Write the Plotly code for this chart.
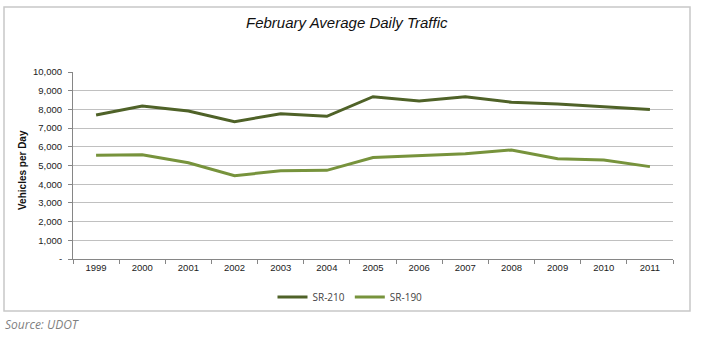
import plotly.graph_objects as go

years = ["1999", "2000", "2001", "2002", "2003", "2004", "2005",
         "2006", "2007", "2008", "2009", "2010", "2011"]
sr210 = [7700, 8180, 7910, 7340, 7770, 7630, 8680, 8450, 8680, 8380, 8290, 8145, 8000]
sr190 = [5545, 5580, 5150, 4455, 4720, 4740, 5430, 5540, 5630, 5830, 5365, 5295, 4940]
ytick_vals = [0, 1000, 2000, 3000, 4000, 5000, 6000, 7000, 8000, 9000, 10000]
ytick_text = ["-", "1,000", "2,000", "3,000", "4,000", "5,000", "6,000",
              "7,000", "8,000", "9,000", "10,000"]

W, H = 713, 339
L, R, T, B = 73, 40, 72, 80
pw, ph = W - L - R, H - T - B
SANS = "Liberation Sans"

def px(x):
    return (x - L) / pw

def py(y):
    return (H - B - y) / ph

fig = go.Figure()
fig.add_trace(go.Scatter(x=years, y=sr210, name="SR-210", mode="lines",
                         line=dict(color="#4F6228", width=3)))
fig.add_trace(go.Scatter(x=years, y=sr190, name="SR-190", mode="lines",
                         line=dict(color="#77933C", width=3)))

fig.update_layout(
    width=W, height=H,
    margin=dict(l=L, r=R, t=T, b=B),
    paper_bgcolor="white", plot_bgcolor="white",
    font=dict(family=SANS, size=9.5, color="#222"),
    showlegend=True,
    legend=dict(orientation="h", x=px(350), xanchor="center", y=py(297), yanchor="middle",
                font=dict(family="Open Sans", size=10, color="#444"),
                itemwidth=30, tracegroupgap=0, bgcolor="rgba(0,0,0,0)"),
    xaxis=dict(type="category", range=[-0.5, len(years) - 0.5], autorange=False,
               showgrid=False, showline=True, linecolor="#868686",
               linewidth=1, ticks="outside", tickson="boundaries", ticklen=4,
               tickcolor="#868686", tickfont=dict(family=SANS, size=9.5, color="#222")),
    yaxis=dict(range=[0, 10000], tickvals=ytick_vals, ticktext=ytick_text,
               showgrid=True, gridcolor="#C0C0C0", gridwidth=1,
               showline=True, linecolor="#868686", linewidth=1,
               ticks="outside", ticklen=4, tickcolor="#868686", ticklabelstandoff=4,
               tickfont=dict(family=SANS, size=9.5, color="#222"), zeroline=False),
)

fig.add_shape(type="rect", xref="paper", yref="paper",
              x0=px(4), x1=px(690), y0=py(311), y1=py(7),
              line=dict(color="#C8C8C8", width=1.5), layer="below")

fig.add_annotation(text="February Average Daily Traffic", xref="paper", yref="paper",
                   x=px(347), y=py(22), xanchor="center", yanchor="middle", showarrow=False,
                   font=dict(family=SANS, size=15, color="#111", style="italic"))
fig.add_annotation(text="<b>Vehicles per Day</b>", xref="paper", yref="paper",
                   x=px(22), y=py(170), xanchor="center", yanchor="middle", textangle=-90,
                   showarrow=False, font=dict(family=SANS, size=10, color="#111"))
fig.add_annotation(text="Source: UDOT", xref="paper", yref="paper",
                   x=px(3), y=py(324), xanchor="left", yanchor="middle", showarrow=False,
                   font=dict(family="Open Sans", size=12, color="#7F7F7F", style="italic"))

fig.write_html("out.html")
